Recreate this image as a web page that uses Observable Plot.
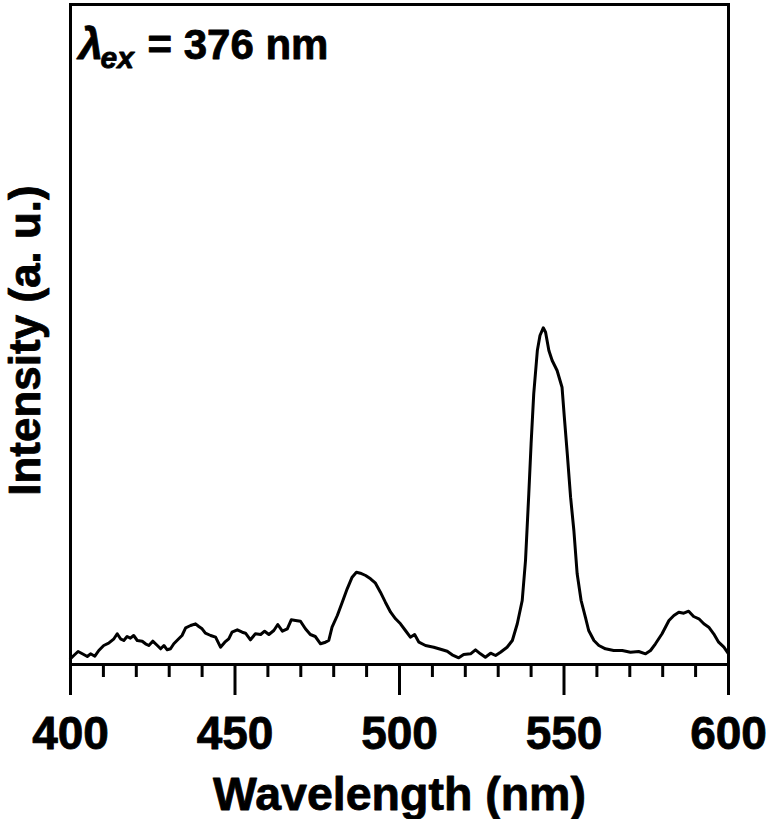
<!DOCTYPE html>
<html>
<head>
<meta charset="utf-8">
<script src="https://cdn.jsdelivr.net/npm/d3@7"></script>
<script src="https://cdn.jsdelivr.net/npm/@observablehq/plot@0.6"></script>
<style>
  html, body { margin: 0; padding: 0; background: #fff; }
  #chart { width: 776px; height: 819px; }
</style>
</head>
<body>
<div id="chart"></div>
<script>
// Wavelength (nm)
const wavelength = [
  400.0, 401.0, 402.3, 403.6, 405.1, 406.1, 407.4, 408.6, 410.1, 411.6,
  413.2, 414.2, 415.2, 416.2, 417.2, 418.2, 419.2, 420.3, 421.8, 422.8,
  423.8, 425.0, 426.4, 427.4, 428.4, 429.4, 430.4, 431.4, 432.9, 433.9,
  435.0, 436.5, 438.0, 439.0, 440.0, 441.0, 442.6, 444.1, 445.6, 446.9,
  448.1, 449.1, 450.7, 452.2, 453.2, 454.7, 456.2, 457.8, 459.0, 460.3,
  461.8, 463.0, 464.4, 465.9, 467.1, 468.4, 469.9, 471.4, 472.9, 474.4,
  476.0, 477.5, 478.5, 479.5, 481.1, 482.6, 484.1, 485.6, 486.9, 488.1,
  489.7, 491.2, 492.7, 494.2, 495.7, 497.3, 498.8, 500.3, 501.8, 503.3,
  504.6, 505.9, 507.9, 510.4, 513.0, 514.5, 516.0, 518.0, 519.5, 521.6,
  523.1, 524.6, 526.1, 527.7, 529.2, 530.7, 532.7, 534.3, 535.8, 537.3,
  538.3, 539.3, 540.0, 540.8, 541.9, 542.7, 543.7, 544.4, 545.4, 546.4,
  547.9, 549.4, 550.1, 551.0, 552.0, 553.0, 554.0, 555.2, 556.5, 557.5,
  559.1, 560.6, 562.6, 565.1, 567.7, 570.2, 572.7, 574.8, 576.3, 577.8,
  579.8, 581.9, 583.4, 584.9, 586.4, 587.9, 589.4, 591.0, 592.5, 594.0,
  595.5, 597.0, 598.6, 600.0
];
// Intensity (a. u.)
const intensity = [
  5.7, 9, 13, 10.7, 8, 10.7, 8.3, 14, 19, 21.3,
  25.7, 30.7, 25.7, 24, 28, 26.3, 29, 24, 23.3, 20.7,
  19, 23.3, 19, 15.7, 19, 14.7, 15.7, 20.7, 25.7, 29,
  36.7, 39, 40.7, 38, 35.7, 31.3, 29, 27.3, 17.3, 22.3,
  25.7, 32.3, 34.7, 32.3, 31.3, 24.7, 30.7, 30, 33.3, 30,
  34, 40, 33.3, 35.7, 44.7, 44, 43.3, 35.7, 30, 28,
  20.7, 22.3, 24, 37.3, 49, 62.3, 75.7, 87.3, 92.3, 91.3,
  89, 85.7, 81.3, 72.3, 62.3, 52.3, 45.7, 40.7, 34, 27.3,
  30, 22.3, 19, 17.3, 14.7, 13.3, 9.7, 6.7, 10, 10.7,
  14.7, 10.7, 7.3, 11.3, 9, 12.3, 17.3, 24, 40.7, 64,
  104, 170.7, 220.7, 270.7, 314, 329, 336.7, 332.3, 314, 304,
  294, 277.3, 247.3, 210.7, 167.3, 134, 90.7, 64, 47.3, 34,
  24, 19, 15.7, 14, 14, 12.3, 13, 10.7, 14, 20.7,
  30.7, 44, 49, 52.3, 51.3, 53.3, 48, 45.7, 40.7, 37.3,
  30.7, 22.3, 17.3, 10.7
];
const majorTicks = [400, 450, 500, 550, 600];
const minorTicks = [410, 420, 430, 440, 460, 470, 480, 490,
                    510, 520, 530, 540, 560, 570, 580, 590];
const xLabel = "Wavelength (nm)";
const yLabel = "Intensity (a. u.)";
const annLambda = "λ";
const annSub = "ex";
const annRest = "= 376 nm";

const data = wavelength.map((w, i) => ({w, v: intensity[i]}));

const heavy = {fill: "black", stroke: "black", strokeWidth: 0.8};
const minorLen = 13, majorLen = 31; // tick length, in intensity units (1 unit = 1 px)

const chart = Plot.plot({
  width: 776,
  height: 819,
  marginLeft: 70,
  marginRight: 48,
  marginTop: 4,
  marginBottom: 155,
  style: {fontFamily: "'Liberation Sans', Arial, sans-serif", background: "#fff", color: "#000"},
  x: {domain: [400, 600], axis: null},
  y: {domain: [0, 660], axis: null},
  marks: [
    Plot.ruleX(minorTicks, {x: d => d, y1: 0, y2: -minorLen, stroke: "black", strokeWidth: 3, clip: false}),
    Plot.ruleX(majorTicks, {x: d => d, y1: 0, y2: -majorLen, stroke: "black", strokeWidth: 3, clip: false}),
    Plot.text(majorTicks, {x: d => d, text: d => String(d), frameAnchor: "bottom", lineAnchor: "top",
                           dy: 52, fontSize: 46, fontWeight: "bold", ...heavy}),
    Plot.line(data, {x: "w", y: "v", stroke: "black", strokeWidth: 3, strokeLinejoin: "round"}),
    Plot.frame({stroke: "black", strokeWidth: 3}),
    Plot.text([xLabel], {text: d => d, frameAnchor: "bottom", lineAnchor: "top", dy: 112,
                         fontSize: 46.5, fontWeight: "bold", ...heavy}),
    Plot.text([yLabel], {text: d => d, frameAnchor: "left", lineAnchor: "top", rotate: -90, dx: -62, dy: 6,
                         textAnchor: "middle", fontSize: 44, fontWeight: "bold", ...heavy}),
    Plot.text([annLambda], {text: d => d, frameAnchor: "top-left", lineAnchor: "bottom", textAnchor: "start",
                            dx: 8, dy: 54, fontSize: 44, fontWeight: "bold", fontStyle: "italic", ...heavy}),
    Plot.text([annSub], {text: d => d, frameAnchor: "top-left", lineAnchor: "bottom", textAnchor: "start",
                         dx: 30, dy: 63, fontSize: 30, fontWeight: "bold", fontStyle: "italic", ...heavy}),
    Plot.text([annRest], {text: d => d, frameAnchor: "top-left", lineAnchor: "bottom", textAnchor: "start",
                          dx: 77, dy: 54, fontSize: 42, fontWeight: "bold", ...heavy})
  ]
});
document.getElementById("chart").appendChild(chart);
</script>
</body>
</html>
